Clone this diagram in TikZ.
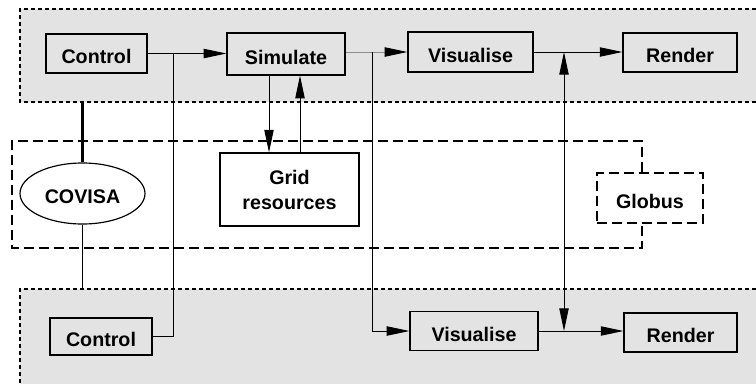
\documentclass[tikz,border=0pt]{standalone}
\usepackage{fontspec}
\setmainfont{Liberation Sans}
\usetikzlibrary{arrows.meta,shapes.geometric}
\definecolor{panelgray}{gray}{0.89}
\tikzset{
	label font/.style={font=\bfseries\fontsize{16.8}{21.3}\selectfont},
	unit/.style={draw, line width=1pt, label font, inner sep=0pt, text height=0.6cm, text depth=0pt},
	link/.style={line width=0.8pt},
	arr/.style={link, -{Triangle[length=0.68cm, width=0.28cm, color=black]}},
	dblarr/.style={link, {Triangle[length=0.68cm, width=0.28cm]}-{Triangle[length=0.68cm, width=0.28cm]}},
	panel edge/.style={line width=0.9pt, dash pattern=on 0.12cm off 0.09cm},
	zone edge/.style={line width=0.9pt, dash pattern=on 0.3cm off 0.15cm}
}

\begin{document}
\begin{tikzpicture}[x=0.03cm, y=-0.03cm]
		%%%%% START %%%%%
		\clip (0, 0) rectangle (756, 383);
		
		% panels
		\fill[panelgray] (20, 9) rectangle (770, 102);
		\draw[panel edge] (770, 9) -- (20, 9) -- (20, 102) -- (770, 102);
		\fill[panelgray] (20, 289) rectangle (770, 395);
		\draw[panel edge] (770, 289) -- (20, 289) -- (20, 395);
		\coordinate (panelA) at (20, 102);
		\coordinate (panelB) at (20, 289);
		
		% upper row
		\node[unit, minimum width=3.03cm, minimum height=1.17cm] (ctrlA) at (96.5, 53.5) {Control};
		\node[unit, minimum width=3.54cm, minimum height=1.26cm] (sim) at (286, 54) {Simulate};
		\node[unit, minimum width=3.75cm, minimum height=1.2cm] (visA) at (470.5, 52) {Visualise};
		\node[unit, minimum width=3.42cm, minimum height=1.17cm] (rendA) at (680, 52.5) {Render};
		
		% middle zone
		\node[draw, line width=1pt, label font, align=center, minimum width=4.17cm, minimum height=2.19cm] (grid) at (289.5, 189.5) {Grid\\resources};
		\node[unit, ellipse, minimum width=3.75cm, minimum height=1.83cm] (covisa) at (82.5, 193.5) {COVISA};
		\node[unit, zone edge, minimum width=3.18cm, minimum height=1.5cm] (globus) at (650, 198) {Globus};
		\coordinate (zoneEdge) at (642, 141);
		\draw[zone edge] (globus.north -| zoneEdge) -- (642, 141) -- (12, 141) -- (12, 248) -- (642, 248) -- (globus.south -| zoneEdge);
		
		% lower row
		\node[unit, minimum width=3.06cm, minimum height=1.11cm] (ctrlB) at (101, 336.5) {Control};
		\node[unit, minimum width=3.84cm, minimum height=1.17cm] (visB) at (474, 331) {Visualise};
		\node[unit, minimum width=3.39cm, minimum height=1.17cm] (rendB) at (680.5, 332.5) {Render};
		
		\coordinate (ctrlTap) at (173, 53.5);
		\coordinate (simTap) at (372, 52);
		\coordinate (visTapA) at (564, 52);
		\coordinate (visTapB) at (564, 331);
		
		\draw[arr] (ctrlA.east) -- (ctrlA.east -| sim.west);
		\draw[link] (ctrlTap) |- (ctrlB.east);
		\draw[arr, draw=black!45] (sim.east |- visA.west) -- (visA.west);
		\draw[arr] (simTap) |- (visB.west);
		\draw[arr] (visA.east) -- (visA.east -| rendA.west);
		\draw[arr] (visB.east) -- (visB.east -| rendB.west);
		\draw[dblarr] (visTapA) -- (visTapB);
		
		\draw[arr] ([xshift=-0.51cm]sim.south) -- ([xshift=-0.51cm]sim.south |- grid.north);
		\draw[arr] ([xshift=0.42cm]sim.south |- grid.north) -- ([xshift=0.42cm]sim.south);
		
		\draw[line width=2.4pt] (covisa.north) -- (covisa |- panelA);
		\draw[link] (covisa.south) -- (covisa |- panelB);
		%%%%% END %%%%%
	\end{tikzpicture}
\end{document}
